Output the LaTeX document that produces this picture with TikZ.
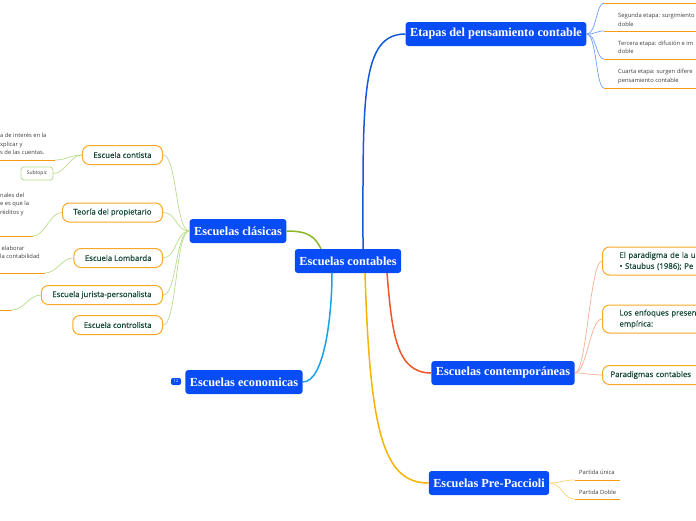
\documentclass[tikz,border=0pt]{standalone}
\usepackage{fontspec}
\setmainfont{Liberation Serif}
\newfontfamily\osans{Open Sans}
\newfontfamily\osanssemi{Open Sans}[FakeBold=0.5]
\definecolor{mainblue}{RGB}{8,76,245}
\definecolor{etapasblue}{RGB}{20,90,220}
\definecolor{etapaslight}{RGB}{110,160,240}
\definecolor{clasgreen}{RGB}{140,182,40}
\definecolor{claslight}{RGB}{185,220,140}
\definecolor{econcyan}{RGB}{25,160,230}
\definecolor{contred}{RGB}{240,85,40}
\definecolor{contlight}{RGB}{248,175,150}
\definecolor{preyellow}{RGB}{245,180,0}
\definecolor{prelight}{RGB}{250,210,120}
\definecolor{boxorange}{RGB}{250,168,40}
\definecolor{lineorange}{RGB}{245,155,20}
\definecolor{darkgreen}{RGB}{22,72,58}
\definecolor{smallgray}{RGB}{60,60,60}
\begin{document}
\begin{tikzpicture}[x=1pt, y=-1pt,
    main/.style={fill=mainblue, text=white, rounded corners=3pt, inner xsep=4.5pt,
      minimum height=24pt, font=\bfseries\fontsize{12.3}{14}\selectfont},
    subbox/.style={draw=boxorange, line width=1pt, fill=white, rounded corners=7pt,
      inner xsep=11pt, minimum height=19pt, text=darkgreen,
      font=\osanssemi\fontsize{7.8}{11}\selectfont},
    widebox/.style={subbox, anchor=west, align=left, text width=110pt,
      inner xsep=17pt, minimum height=28pt},
    note/.style={text=smallgray, font=\osans\fontsize{5.8}{8.5}\selectfont,
      align=left, inner sep=0pt, anchor=west},
    uline/.style={lineorange, line width=1pt},
    branch/.style={line width=1.5pt},
    twig/.style={line width=0.7pt}]
  \useasboundingbox (0,0) rectangle (696,520);
  \clip (0,0) rectangle (696,520);
  % Main topics
  \node[main] (root) at (348,261) {Escuelas contables};
  \node[main] (etapas) at (496,34) {Etapas del pensamiento contable};
  \node[main] (clasicas) at (238,231) {Escuelas clásicas};
  \node[main] (economicas) at (244,382) {Escuelas economicas};
  \node[main] (contemp) at (503,373) {Escuelas contemporáneas};
  \node[main] (prepac) at (489,483) {Escuelas Pre-Paccioli};
  \node[fill=mainblue, rounded corners=2pt, text=white, inner sep=0pt,
    minimum width=10pt, minimum height=7pt,
    font=\osans\fontsize{4}{4}\selectfont] (count) at (176,381.5) {12};
  % Branches from the root
  \draw[branch, etapasblue] ([xshift=15pt]root.north) .. controls +(0,-150) and +(-45,0) .. (etapas.west);
  \draw[branch, clasgreen] (clasicas.east) .. controls +(22,0) and +(-6,-12) .. ([xshift=-27pt]root.north);
  \draw[branch, econcyan] (economicas.east) .. controls +(22,0) and +(0,40) .. ([xshift=-16pt]root.south);
  \draw[branch, contred] ([xshift=39pt]root.south) .. controls +(5,60) and +(-35,0) .. (contemp.west);
  \draw[branch, preyellow] ([xshift=17pt]root.south) .. controls +(5,160) and +(-45,0) .. (prepac.west);
  % Etapas del pensamiento contable
  \coordinate (e0) at (604,3);
  \coordinate (e1) at (604,31);
  \coordinate (e2) at (604,59);
  \coordinate (e3) at (604,88);
  \foreach \y in {3,31,59,88} {
    \draw[uline] (604,\y) -- (696,\y);
  }
  \node[note] (segunda) at (618,20) {Segunda etapa: surgimiento\\doble};
  \node[note] (tercera) at (618,47.5) {Tercera etapa: difusión e im\\doble};
  \node[note] (cuarta) at (618,76.5) {Cuarta etapa: surgen difere\\pensamiento contable};
  \foreach \e in {e0,e1,e2,e3} {
    \draw[twig, etapaslight] (etapas.east) .. controls +(10,0) and +(-8,0) .. (\e);
  }
  % Escuelas contemporaneas
  \node[widebox] (utilidad) at (602,261) {El paradigma de la u\\• Staubus (1986); Pe};
  \node[widebox] (enfoques) at (602,319) {Los enfoques presen\\empírica:};
  \node[subbox, anchor=west, inner xsep=8pt, minimum width=110pt, align=left,
    text width=94pt] (paradigmas) at (602,375) {Paradigmas contables};
  \foreach \c in {utilidad,enfoques,paradigmas} {
    \draw[twig, contlight] (contemp.east) .. controls +(12,0) and +(-12,0) .. (\c.west);
  }
  % Escuelas Pre-Paccioli
  \coordinate (p1) at (575,480);
  \coordinate (p2) at (575,499);
  \draw[uline] (p1) -- (620,480);
  \draw[uline] (p2) -- (620,499);
  \node[note] (unica) at (579,472) {Partida única};
  \node[note] (doble) at (579,492) {Partida Doble};
  \draw[twig, prelight] (prepac.east) .. controls +(12,0) and +(-12,0) .. (p1);
  \draw[twig, prelight] (prepac.east) .. controls +(12,0) and +(-12,0) .. (p2);
  % Escuelas clasicas
  \node[subbox, anchor=east] (contista) at (163,155) {Escuela contista};
  \node[subbox, anchor=east] (propietario) at (163,212.5) {Teoría del propietario};
  \node[subbox, anchor=east] (lombarda) at (163,258) {Escuela Lombarda};
  \node[subbox, anchor=east] (jurista) at (163,295) {Escuela jurista-personalista};
  \node[subbox, anchor=east] (controlista) at (163,325) {Escuela controlista};
  \foreach \s in {contista,propietario,lombarda,jurista,controlista} {
    \draw[twig, claslight] (clasicas.west) .. controls +(-14,0) and +(14,0) .. (\s.east);
  }
  \node[draw=claslight, line width=0.8pt, fill=white, rounded corners=3pt,
    minimum width=32pt, minimum height=13pt, inner sep=1pt, text=smallgray,
    font=\osans\fontsize{5}{6}\selectfont] (subtopic) at (37,173.5) {Subtopic};
  % Notes on the left
  \coordinate (l1) at (55,160);
  \coordinate (l2) at (33,236);
  \coordinate (l3) at (45,273);
  \coordinate (l4) at (12,310);
  \draw[uline] (0,160) -- (l1);
  \draw[uline] (0,236) -- (l2);
  \draw[uline] (0,273) -- (l3);
  \draw[uline] (0,310) -- (l4);
  \node[note] (interes) at (0,144) {a de interés en la\\xplicar y\\s de las cuentas.};
  \node[note] (nales) at (0,204) {nales del\\e es que la\\réditos y};
  \node[note] (elaborar) at (0,252.5) {\ elaborar\\la contabilidad};
  \draw[twig, claslight] (contista.west) .. controls +(-12,0) and +(12,0) .. (l1);
  \draw[twig, claslight] (contista.west) .. controls +(-12,0) and +(12,0) .. (subtopic.east);
  \draw[twig, claslight] (propietario.west) .. controls +(-12,0) and +(12,0) .. (l2);
  \draw[twig, claslight] (lombarda.west) .. controls +(-12,0) and +(12,0) .. (l3);
  \draw[twig, claslight] (jurista.west) .. controls +(-12,0) and +(12,0) .. (l4);
\end{tikzpicture}
\end{document}
